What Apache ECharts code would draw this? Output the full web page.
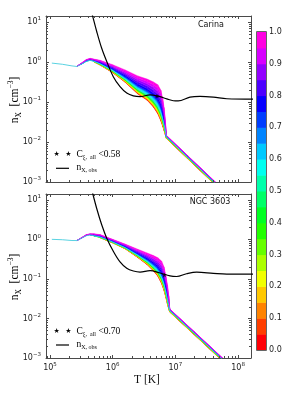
<!DOCTYPE html>
<html><head><meta charset="utf-8">
<script src="https://cdn.jsdelivr.net/npm/echarts@6/dist/echarts.min.js"></script>
<style>html,body{margin:0;padding:0;background:#fff}#c{width:299px;height:399px}</style>
</head><body><div id="c"></div>
<script>
// ---------- data ----------
const levels = [0, 0.25, 0.5, 0.75, 1.0];
// Carina panel: temperature grid [K] and density curves n_X [cm^-3] for several C levels
const tTop = [1.07e5, 1.58e5, 2.24e5, 2.69e5, 3.16e5, 3.80e5, 4.37e5, 5.01e5, 6.31e5, 1.0e6, 1.58e6, 2.51e6, 3.55e6, 4.47e6, 5.25e6, 5.89e6, 6.31e6, 6.61e6, 6.92e6, 7.16e6, 1.58e7, 5.01e7];
const nTop0   = [0.933, 0.871, 0.794, 0.759, 0.851, 1.0, 1.047, 1.0, 0.832, 0.537, 0.309, 0.158, 0.110, 0.0741, 0.0501, 0.0331, 0.0240, 0.0191, 0.0151, 0.0123, 0.00376, 0.000676];
const nTop25  = [0.933, 0.871, 0.794, 0.759, 0.861, 1.017, 1.068, 1.020, 0.860, 0.568, 0.337, 0.179, 0.127, 0.0882, 0.0613, 0.0410, 0.0290, 0.0224, 0.0168, 0.0129, 0.00394, 0.000708];
const nTop50  = [0.933, 0.871, 0.794, 0.767, 0.872, 1.037, 1.092, 1.043, 0.894, 0.605, 0.372, 0.2075, 0.1506, 0.1081, 0.0776, 0.0525, 0.0363, 0.0270, 0.0189, 0.0135, 0.00412, 0.000741];
const nTop75  = [0.933, 0.871, 0.794, 0.776, 0.887, 1.064, 1.126, 1.075, 0.942, 0.661, 0.426, 0.253, 0.190, 0.1424, 0.1068, 0.0736, 0.0490, 0.0348, 0.0222, 0.0141, 0.00432, 0.000776];
const nTop100 = [0.933, 0.871, 0.794, 0.776, 0.933, 1.148, 1.230, 1.175, 1.096, 0.851, 0.631, 0.447, 0.372, 0.316, 0.269, 0.195, 0.117, 0.0724, 0.0355, 0.0148, 0.00452, 0.000813];
// NGC 3603 panel
const tBot = [1.07e5, 1.58e5, 2.24e5, 2.69e5, 3.16e5, 3.80e5, 4.37e5, 5.01e5, 6.31e5, 1.0e6, 1.58e6, 2.51e6, 3.55e6, 4.47e6, 5.25e6, 6.03e6, 6.61e6, 7.08e6, 7.50e6, 7.85e6, 8.13e6, 2.0e7, 6.31e7];
const nBot0   = [1.0, 0.977, 0.933, 0.933, 1.047, 1.202, 1.259, 1.189, 1.096, 0.813, 0.575, 0.347, 0.229, 0.158, 0.117, 0.0759, 0.0501, 0.0331, 0.0224, 0.0174, 0.01445, 0.00386, 0.000711];
const nBot25  = [1.0, 0.977, 0.933, 0.933, 1.053, 1.216, 1.273, 1.210, 1.121, 0.833, 0.595, 0.3675, 0.2485, 0.1765, 0.1336, 0.0888, 0.0592, 0.0386, 0.0256, 0.0190, 0.01514, 0.00405, 0.000745];
const nBot50  = [1.0, 0.977, 0.933, 0.933, 1.060, 1.231, 1.289, 1.236, 1.150, 0.858, 0.618, 0.393, 0.273, 0.200, 0.1552, 0.1067, 0.0718, 0.0460, 0.0300, 0.0212, 0.01585, 0.00424, 0.000780];
const nBot75  = [1.0, 0.977, 0.933, 0.933, 1.069, 1.253, 1.312, 1.272, 1.191, 0.892, 0.652, 0.431, 0.311, 0.2374, 0.190, 0.1369, 0.0933, 0.0585, 0.0372, 0.0245, 0.0166, 0.00444, 0.000817];
const nBot100 = [1.0, 0.977, 0.933, 0.933, 1.096, 1.318, 1.380, 1.380, 1.318, 1.0, 0.759, 0.562, 0.452, 0.389, 0.343, 0.282, 0.200, 0.117, 0.0692, 0.0372, 0.01738, 0.00465, 0.000855];
// observed density n_X,obs
const obsTTop = [4.17e5, 4.73e5, 5.56e5, 6.68e5, 8.04e5, 1.023e6, 1.31e6, 1.675e6, 2.14e6, 2.73e6, 3.94e6, 5.69e6, 7.28e6, 9.27e6, 1.11e7, 1.71e7, 2.47e7, 4.04e7, 6.61e7, 1.78e8];
const obsNTop = [31.6, 14.96, 5.75, 2.19, 1.023, 0.427, 0.240, 0.166, 0.141, 0.135, 0.150, 0.135, 0.119, 0.107, 0.106, 0.132, 0.138, 0.132, 0.120, 0.117];
const obsTBot = [4.17e5, 4.73e5, 5.56e5, 6.68e5, 8.04e5, 1.023e6, 1.31e6, 1.675e6, 2.14e6, 2.73e6, 3.94e6, 5.69e6, 8.22e6, 1.047e7, 1.51e7, 2.19e7, 4.04e7, 6.61e7, 1.78e8];
const obsNBot = [35.5, 15.8, 6.03, 2.34, 1.072, 0.501, 0.269, 0.186, 0.158, 0.148, 0.162, 0.141, 0.119, 0.115, 0.135, 0.148, 0.138, 0.132, 0.132];
// star markers (C below threshold)
const starTop = [[5.09e6, 0.141]];
const starBot = [[6.67e6, 0.126]];
// ticks
const xMinorTicks = [9e4, 2e5, 3e5, 4e5, 5e5, 6e5, 7e5, 8e5, 9e5, 2e6, 3e6, 4e6, 5e6, 6e6, 7e6, 8e6, 9e6, 2e7, 3e7, 4e7, 5e7, 6e7, 7e7, 8e7, 9e7];
const yMinorTicks = [2e-3, 3e-3, 4e-3, 5e-3, 6e-3, 7e-3, 8e-3, 9e-3, 0.02, 0.03, 0.04, 0.05, 0.06, 0.07, 0.08, 0.09, 0.2, 0.3, 0.4, 0.5, 0.6, 0.7, 0.8, 0.9, 2, 3, 4, 5, 6, 7, 8, 9];
const cbBounds = [0, 0.05, 0.1, 0.15, 0.2, 0.25, 0.3, 0.35, 0.4, 0.45, 0.5, 0.55, 0.6, 0.65, 0.7, 0.75, 0.8, 0.85, 0.9, 0.95, 1.0];
const panelNames = ['Carina', 'NGC 3603'];
const thresholds = ['0.58', '0.70'];

// ---------- style ----------
const xMin = 8.63e4, xMax = 1.61e8, yMin = 1e-3, yMax = 14;
const frame = '#4a4a4a';
const SUB = 5; // colour steps drawn between two neighbouring curves (0.05 colour levels)
const rainbow = [[0,[255,0,41]],[0.03,[255,0,0]],[0.215,[255,255,0]],[0.4,[0,255,0]],[0.586,[0,255,255]],[0.77,[0,0,255]],[0.954,[255,0,255]],[1,[255,0,191]]];
function cmap(v){
  v = Math.max(0, Math.min(1, v));
  for (let j = 0; j < rainbow.length - 1; j++) {
    const [a, ca] = rainbow[j], [b, cb] = rainbow[j+1];
    if (v <= b) { const t = (v - a) / (b - a); return 'rgb(' + ca.map((x, q) => Math.round(x + (cb[q] - x) * t)).join(',') + ')'; }
  }
  return 'rgb(255,0,191)';
}
function powFmt(v){
  const l = Math.log10(v), e = Math.round(l);
  if (Math.abs(l - e) > 1e-6) return '';
  return '{b|10}{s|' + (e < 0 ? '\u2212' + (-e) : e) + '}';
}
const powRich = {
  b: {fontFamily: 'DejaVu Sans', fontSize: 8, lineHeight: 12, color: '#222'},
  s: {fontFamily: 'DejaVu Sans', fontSize: 5.5, lineHeight: 7, verticalAlign: 'top', color: '#222'}
};
function xAx(g, pos, labels){
  return {gridIndex: g, type: 'log', min: xMin, max: xMax, position: pos,
    axisLine: {show: true, onZero: false, lineStyle: {color: frame, width: 1}},
    axisTick: {show: true, inside: true, length: 3, lineStyle: {color: frame, width: 1}},
    axisLabel: {show: labels, interval: 0, margin: 4, hideOverlap: false, formatter: powFmt, rich: powRich},
    splitLine: {show: false}};
}
function yAx(g, pos, labels){
  return {gridIndex: g, type: 'log', min: yMin, max: yMax, position: pos,
    axisLine: {show: true, onZero: false, lineStyle: {color: frame, width: 1}},
    axisTick: {show: true, inside: true, length: 3, lineStyle: {color: frame, width: 1}},
    axisLabel: {show: labels, interval: 0, margin: 5, hideOverlap: false, formatter: powFmt, rich: powRich},
    splitLine: {show: false}};
}
function lerp(p, q, f){ return [p[0] + (q[0]-p[0])*f, p[1] + (q[1]-p[1])*f]; }
function bandSeries(T, curves, ax){
  const data = [];
  for (let k = 0; k < curves.length - 1; k++)
    for (let i = 0; i < T.length - 1; i++) data.push([T[i], curves[k][i], k, i]);
  return {type: 'custom', xAxisIndex: ax, yAxisIndex: ax, clip: true, silent: true, z: 2,
    renderItem: function(params, api){
      const k = api.value(2), i = api.value(3);
      const a = api.coord([T[i], curves[k][i]]), b = api.coord([T[i+1], curves[k][i+1]]);
      const c = api.coord([T[i+1], curves[k+1][i+1]]), d = api.coord([T[i], curves[k+1][i]]);
      if (Math.hypot(d[0]-a[0], d[1]-a[1]) < 0.4 && Math.hypot(c[0]-b[0], c[1]-b[1]) < 0.4) return null;
      const lo = levels[k], hi = levels[k+1];
      const children = [];
      for (let s = 0; s < SUB; s++) {
        const f0 = s / SUB, f1 = (s + 1) / SUB;
        const col = cmap(lo + (hi - lo) * (s + 0.5) / SUB);
        children.push({type: 'polygon',
          shape: {points: [lerp(a, d, f0), lerp(b, c, f0), lerp(b, c, f1), lerp(a, d, f1)]},
          style: {fill: col, stroke: col, lineWidth: 0.4}});
      }
      return {type: 'group', children: children};
    },
    data: data};
}
function midLine(T, n, ax){
  return {type: 'line', xAxisIndex: ax, yAxisIndex: ax, z: 3, silent: true,
    showSymbol: false, symbol: 'none', clip: true,
    lineStyle: {width: 0.9, color: 'rgb(70,205,222)'},
    data: T.map((t, i) => [t, n[i]])};
}
function obsLine(T, N, ax){
  return {type: 'line', xAxisIndex: ax, yAxisIndex: ax, z: 4, silent: true, showSymbol: false, symbol: 'none',
    smooth: 0.35, clip: true, lineStyle: {width: 1.2, color: '#000'}, data: T.map((t, i) => [t, N[i]])};
}
const STAR = 'path://M50,0L61.8,35.3L98.9,35.3L68.9,57.1L80.3,92.7L50,70.7L19.7,92.7L31.1,57.1L1.1,35.3L38.2,35.3Z';
function starSeries(pts, ax){
  return {type: 'scatter', xAxisIndex: ax, yAxisIndex: ax, z: 5, silent: true, symbol: STAR, symbolSize: 5,
    itemStyle: {color: '#000'}, data: pts};
}
function minorTicks(ax){
  const data = xMinorTicks.map(v => [v, 1, 0]).concat(yMinorTicks.map(v => [1e6, v, 1]));
  return {type: 'custom', xAxisIndex: ax, yAxisIndex: ax, clip: false, silent: true, z: 6,
    renderItem: function(params, api){
      const cs = params.coordSys, p = api.coord([api.value(0), api.value(1)]);
      const st = {stroke: frame, lineWidth: 1};
      if (api.value(2) === 0) {
        const x = Math.round(p[0]) + 0.5;
        return {type: 'group', children: [
          {type: 'line', shape: {x1: x, y1: cs.y + cs.height, x2: x, y2: cs.y + cs.height - 2}, style: st},
          {type: 'line', shape: {x1: x, y1: cs.y, x2: x, y2: cs.y + 2}, style: st}]};
      }
      const y = Math.round(p[1]) + 0.5;
      return {type: 'group', children: [
        {type: 'line', shape: {x1: cs.x, y1: y, x2: cs.x + 2, y2: y}, style: st},
        {type: 'line', shape: {x1: cs.x + cs.width, y1: y, x2: cs.x + cs.width - 2, y2: y}, style: st}]};
    },
    data: data};
}
function colorbarSeries(){
  const data = [];
  for (let i = 0; i < cbBounds.length - 1; i++) data.push([0, cbBounds[i], i]);
  return {type: 'custom', xAxisIndex: 4, yAxisIndex: 4, silent: true, z: 2,
    renderItem: function(params, api){
      const i = api.value(2), lo = cbBounds[i], hi = cbBounds[i+1];
      const p1 = api.coord([0, hi]), p2 = api.coord([1, lo]);
      return {type: 'rect', shape: {x: p1[0], y: p1[1], width: p2[0]-p1[0], height: p2[1]-p1[1]+0.5},
        style: {fill: cmap((lo+hi)/2)}};
    },
    data: data};
}

const serif = 'Liberation Serif';
const mathRich = {
  a: {fontFamily: serif, fontSize: 11.5, lineHeight: 16, color: '#111'},
  s: {fontFamily: serif, fontSize: 7.5, lineHeight: 8, verticalAlign: 'bottom', color: '#111'},
  p: {fontFamily: serif, fontSize: 7.5, lineHeight: 8, verticalAlign: 'top', color: '#111'}
};
const legRich = {
  a: {fontFamily: serif, fontSize: 9.5, lineHeight: 13, color: '#111'},
  s: {fontFamily: serif, fontSize: 6, lineHeight: 6, verticalAlign: 'bottom', color: '#111'}
};
function legendEls(yStar, yLine, thr){
  return [
    {type: 'text', x: 56.7, y: yStar, z: 50, style: {text: '\u2605', fontFamily: 'DejaVu Sans', fontSize: 7, fill: '#000', align: 'center', verticalAlign: 'middle'}},
    {type: 'text', x: 68.3, y: yStar, z: 50, style: {text: '\u2605', fontFamily: 'DejaVu Sans', fontSize: 7, fill: '#000', align: 'center', verticalAlign: 'middle'}},
    {type: 'text', x: 76.5, y: yStar, z: 50, style: {text: '{a|C}{s|\u03be,  all}{a| <' + thr + '}', rich: legRich, align: 'left', verticalAlign: 'middle'}},
    {type: 'line', z: 50, shape: {x1: 56, y1: yLine, x2: 69, y2: yLine}, style: {stroke: '#000', lineWidth: 1.2}},
    {type: 'text', x: 76.5, y: yLine - 1, z: 50, style: {text: '{a|n}{s|X, obs}', rich: legRich, align: 'left', verticalAlign: 'middle'}}
  ];
}

const chart = echarts.init(document.getElementById('c'), null, {renderer: 'canvas'});
chart.setOption({
  animation: false,
  backgroundColor: '#fff',
  grid: [
    {left: 46, top: 16, width: 205, height: 166, outerBoundsMode: 'none'},
    {left: 46, top: 194, width: 205, height: 164, outerBoundsMode: 'none'},
    {left: 257, top: 32, width: 9, height: 318, outerBoundsMode: 'none'}
  ],
  xAxis: [xAx(0, 'bottom', false), xAx(1, 'bottom', true), xAx(0, 'top', false), xAx(1, 'top', false),
    {gridIndex: 2, type: 'value', min: 0, max: 1, show: false}],
  yAxis: [yAx(0, 'left', true), yAx(1, 'left', true), yAx(0, 'right', false), yAx(1, 'right', false),
    {gridIndex: 2, type: 'value', min: 0, max: 1, interval: 0.1, position: 'right',
      axisLine: {show: false}, axisTick: {show: false}, splitLine: {show: false},
      axisLabel: {margin: 3, fontFamily: 'DejaVu Sans', fontSize: 8, color: '#222', formatter: v => v.toFixed(1)}}],
  series: [
    bandSeries(tTop, [nTop0, nTop25, nTop50, nTop75, nTop100], 0),
    bandSeries(tBot, [nBot0, nBot25, nBot50, nBot75, nBot100], 1),
    midLine(tTop, nTop50, 0),
    midLine(tBot, nBot50, 1),
    obsLine(obsTTop, obsNTop, 0),
    obsLine(obsTBot, obsNBot, 1),
    starSeries(starTop, 0),
    starSeries(starBot, 1),
    minorTicks(0),
    minorTicks(1),
    colorbarSeries()
  ],
  graphic: [
    {type: 'text', x: 15, y: 100, rotation: Math.PI/2, z: 50, style: {text: '{a|n}{s|X}{a|  [cm}{p|\u22123}{a|]}', rich: mathRich, align: 'center', verticalAlign: 'middle'}},
    {type: 'text', x: 15, y: 277, rotation: Math.PI/2, z: 50, style: {text: '{a|n}{s|X}{a|  [cm}{p|\u22123}{a|]}', rich: mathRich, align: 'center', verticalAlign: 'middle'}},
    {type: 'text', x: 147, y: 380, z: 50, style: {text: 'T [K]', fontFamily: serif, fontSize: 11.5, fill: '#111', align: 'center', verticalAlign: 'middle'}},
    {type: 'text', x: 211, y: 24.5, z: 50, style: {text: panelNames[0], fontFamily: 'DejaVu Sans', fontSize: 8, fill: '#111', align: 'center', verticalAlign: 'middle'}},
    {type: 'text', x: 210, y: 201.5, z: 50, style: {text: panelNames[1], fontFamily: 'DejaVu Sans', fontSize: 8, fill: '#111', align: 'center', verticalAlign: 'middle'}},
    {type: 'rect', z: 50, shape: {x: 256.5, y: 31.5, width: 10, height: 319}, style: {fill: 'none', stroke: '#666', lineWidth: 1}},
    ...legendEls(154.3, 168.3, thresholds[0]),
    ...legendEls(331, 345, thresholds[1])
  ]
});
</script>
</body></html>
